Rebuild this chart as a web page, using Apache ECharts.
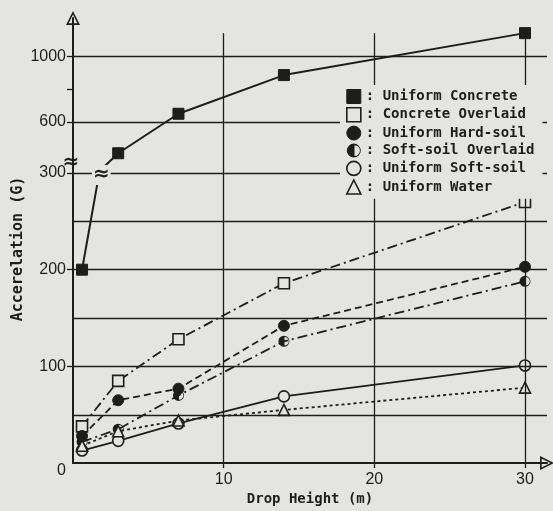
<!DOCTYPE html>
<html><head><meta charset="utf-8">
<script src="https://cdn.jsdelivr.net/npm/echarts@6/dist/echarts.min.js"></script>
<style>html,body{margin:0;padding:0;background:#e4e4e2}#c{width:553px;height:511px}</style>
</head><body><div id="c"></div>
<script>
// ---- data ----
const heights = [0.6, 3, 7, 14, 30];
const uniformConcrete = [200, 410, 650, 885, 1140];
const concreteOverlaid = [38, 85, 128, 186, 270];
const uniformHardSoil = [28, 65, 77, 142, 203];
const softSoilOverlaid = [22, 35, 70, 126, 188];
const uniformSoftSoil = [13, 23, 41, 69, 101];
const uniformWater = [18, 33, 44, 55, 78];
const seriesNames = ['Uniform Concrete', 'Concrete Overlaid', 'Uniform Hard-soil', 'Soft-soil Overlaid', 'Uniform Soft-soil', 'Uniform Water'];
const xLabels = [10, 20, 30];
const verticalGridX = [10, 20, 30];
const lowerYLabels = [0, 100, 200, 300];
const lowerYTicks = [100, 200, 300];
const lowerGridY = [50, 100, 150, 200, 250, 300];
const upperYLabels = [600, 1000];
const upperYTicks = [600, 800, 1000];
const upperGridY = [600, 1000];

// ---- style ----
const ink = '#1d1d1d', paper = '#e4e4e2';
const halfCircle = 'path://M10 0A10 10 0 1 1 10 20A10 10 0 1 1 10 0ZM11 2.2L11 17.8A7.8 7.8 0 0 0 11 2.2Z';
const openArrow = 'path://M10 0L20 20L0 20ZM10 5L3.8 17.6L16.2 17.6Z';
const values = [uniformConcrete, concreteOverlaid, uniformHardSoil, softSoilOverlaid, uniformSoftSoil, uniformWater];
const looks = [
  {symbol: 'rect', size: 11, fill: ink, dash: 'solid', width: 2, border: 1},
  {symbol: 'rect', size: 11, fill: paper, dash: [10, 4, 2, 4], width: 1.8, border: 1.6},
  {symbol: 'circle', size: 11, fill: ink, dash: [7, 4], width: 1.8, border: 1},
  {symbol: halfCircle, size: 11, fill: ink, dash: [10, 4, 2, 4], width: 1.8, border: 0},
  {symbol: 'circle', size: 11, fill: paper, dash: 'solid', width: 1.8, border: 1.6},
  {symbol: 'triangle', size: 11, fill: paper, dash: [3, 3], width: 1.8, border: 1.6}
];
const labelFont = {fontFamily: 'Liberation Sans', fontSize: 16, color: ink};
const monoFont = {fontFamily: 'DejaVu Sans Mono', fontWeight: 'bold', fontSize: 14, color: ink};
const gridLine = {color: ink, width: 1.3, type: 'solid'};
const XMAX = 31.46;

const chart = echarts.init(document.getElementById('c'));

function mkSeries(i, gridIdx) {
  const lk = looks[i];
  return {
    type: 'line', name: seriesNames[i],
    xAxisIndex: gridIdx, yAxisIndex: gridIdx,
    data: heights.map((h, k) => [h, values[i][k]]),
    clip: true, symbol: lk.symbol, symbolSize: lk.size, showAllSymbol: true,
    lineStyle: {color: ink, width: lk.width, type: lk.dash},
    itemStyle: {color: lk.fill, borderColor: ink, borderWidth: lk.border, opacity: 1},
    emphasis: {disabled: true}, z: 3
  };
}
const series = [];
for (let i = 0; i < values.length; i++) series.push(mkSeries(i, 1));
const upperConcrete = mkSeries(0, 0);
upperConcrete.markLine = {
  silent: true, symbol: ['none', 'none'], label: {show: false}, animation: false,
  lineStyle: gridLine,
  data: upperGridY.map(v => ({yAxis: v})).concat(
    verticalGridX.map(x => [{coord: [x, 290]}, {coord: [x, 1140]}]))
};
series.push(upperConcrete);
series[5].markLine = {
  silent: true, symbol: ['none', 'none'], label: {show: false}, animation: false,
  lineStyle: gridLine,
  data: verticalGridX.map(x => ({xAxis: x})).concat(lowerGridY.map(v => ({yAxis: v})))
};

chart.setOption({
  animation: false,
  backgroundColor: paper,
  grid: [
    {left: 73, right: 6, top: 18, height: 155},
    {left: 73, right: 6, top: 173, height: 294}
  ],
  xAxis: [
    {gridIndex: 0, type: 'value', min: 0, max: XMAX, show: false},
    {gridIndex: 1, type: 'value', min: 0, max: XMAX,
     name: 'Drop Height (m)', nameLocation: 'middle', nameGap: 25, nameTextStyle: monoFont,
     axisLine: {show: true, lineStyle: {color: ink, width: 2}, symbol: ['none', openArrow], symbolSize: [14, 18], symbolOffset: [0, 0]},
     axisTick: {show: true, inside: false, length: 5, customValues: xLabels, lineStyle: {color: ink, width: 1.3}},
     axisLabel: {customValues: xLabels, margin: 8, ...labelFont, formatter: v => String(v)},
     splitLine: {show: false}}
  ],
  yAxis: [
    {gridIndex: 0, type: 'value', min: 290, max: 1232,
     axisLine: {show: true, onZero: false, lineStyle: {color: ink, width: 2}, symbol: ['none', openArrow], symbolSize: [14, 18], symbolOffset: [0, 0]},
     axisTick: {show: true, inside: false, length: 6, customValues: upperYTicks, lineStyle: {color: ink, width: 1.3}},
     axisLabel: {customValues: upperYLabels, margin: 7, ...labelFont, formatter: v => String(v)},
     splitLine: {show: false}},
    {gridIndex: 1, type: 'value', min: 0, max: 300, interval: 50,
     axisLine: {show: true, onZero: false, lineStyle: {color: ink, width: 2}},
     axisTick: {show: true, inside: false, length: 6, customValues: lowerYTicks, lineStyle: {color: ink, width: 1.3}},
     axisLabel: {customValues: lowerYLabels, margin: 7, ...labelFont,
       formatter: v => v === 0 ? '{o|0}' : String(v),
       rich: {o: {...labelFont, padding: [14, 0, 0, 0]}}},
     splitLine: {show: false}}
  ],
  legend: {
    orient: 'vertical', left: 340, top: 85,
    padding: [4, 8, 4, 6], itemGap: 3, itemWidth: 14, itemHeight: 14,
    backgroundColor: paper, z: 10,
    textStyle: {...monoFont, lineHeight: 14},
    formatter: n => ': ' + n,
    selectedMode: false,
    data: seriesNames.map((n, i) => ({
      name: n, icon: looks[i].symbol,
      itemStyle: {color: looks[i].fill, borderColor: ink, borderWidth: looks[i].border}
    }))
  },
  series: series
});

// axis title and break marks (annotations)
const p0 = chart.convertToPixel({gridIndex: 1}, [heights[0], uniformConcrete[0]]);
const p1 = chart.convertToPixel({gridIndex: 1}, [heights[1], uniformConcrete[1]]);
const yTop = chart.convertToPixel({gridIndex: 1}, [0, 300])[1];
const t = (yTop - p0[1]) / (p1[1] - p0[1]);
const bx = p0[0] + t * (p1[0] - p0[0]);
const axisBreak = chart.convertToPixel({gridIndex: 0}, [0, 350]);
chart.setOption({
  graphic: [
    {type: 'text', x: 18, y: 249, rotation: Math.PI / 2, z: 20,
     style: {text: 'Accerelation (G)', font: 'bold 15px "DejaVu Sans Mono"', fill: ink, align: 'center', verticalAlign: 'middle'}},
    {type: 'text', x: axisBreak[0] - 2, y: axisBreak[1], z: 20,
     style: {text: '≈', font: 'bold 20px "DejaVu Sans"', fill: ink, align: 'center', verticalAlign: 'middle'}},
    {type: 'text', x: bx + 2, y: yTop + 2, z: 20,
     style: {text: '≈', font: 'bold 20px "DejaVu Sans"', fill: ink, align: 'center', verticalAlign: 'middle',
             backgroundColor: paper, padding: [0, 1]}}
  ]
});
</script></body></html>
